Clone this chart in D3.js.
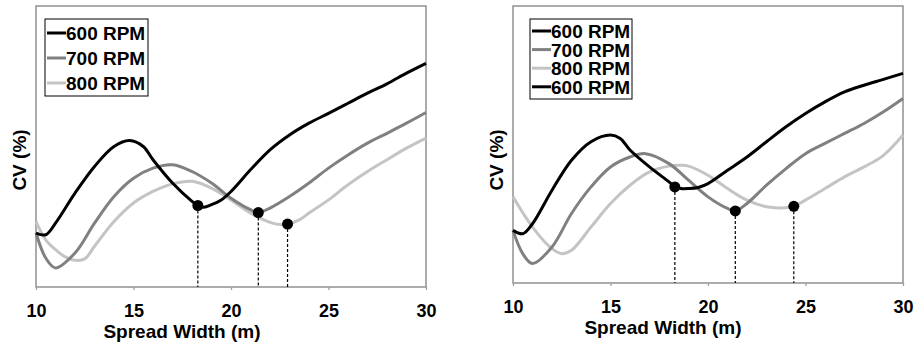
<!DOCTYPE html>
<html>
<head>
<meta charset="utf-8">
<script src="https://cdn.jsdelivr.net/npm/d3@7"></script>
<style>
  body { margin: 0; background: #fff; }
  svg { display: block; font-family: Arial, 'Liberation Sans', sans-serif; }
</style>
</head>
<body>
<div id="chart"></div>
<script>
// x ticks (spread width, m)
const xTicks = [10, 15, 20, 25, 30]

// left panel curves: [spread width, CV (relative)]
const left600 = [[10,19.2],[10.5,18.6],[11,22.7],[12,33.4],[13,42.9],[14,50.0],[14.8,52.1],[15.5,50.0],[16,45.3],[17,37.0],[18,30.5],[18.3,29.0],[18.6,28.4],[19,29.3],[19.5,31.0],[20,34.0],[21,41.7],[22,48.8],[23,54.1],[24,58.3],[25,61.8],[26,65.4],[27,69.0],[28,72.3],[29,76.1],[30,79.6]]
const left700 = [[10,19.2],[10.5,10.3],[11,6.8],[12,12.1],[13,22.7],[14,32.2],[15,38.7],[16,42.3],[17,43.5],[18,41.1],[19,37.0],[20,31.6],[21,27.5],[21.4,26.5],[22,28.1],[23,32.2],[24,37.0],[25,42.3],[26,47.0],[27,51.2],[28,54.7],[29,58.3],[30,62.1]]
const left800 = [[10,23.3],[10.5,16.8],[11,13.3],[11.5,10.7],[12,9.5],[12.5,10.0],[13,14.5],[14,23.3],[15,29.9],[16,34.0],[17,36.7],[18,37.6],[19,35.2],[20,31.0],[21,26.3],[22,23.0],[22.5,22.2],[22.9,22.4],[23.5,23.9],[24,26.3],[25,31.0],[26,36.4],[27,41.1],[28,45.3],[29,49.4],[30,53.0]]
const leftMinima = [[18.3,29.0],[21.4,26.5],[22.9,22.4]]

// right panel curves
const right600 = [[10,19.0],[10.5,17.8],[11,21.4],[12,33.5],[13,44.3],[14,51.0],[15,53.4],[15.5,52.2],[16,48.0],[17,41.9],[18,36.5],[18.3,34.7],[18.6,34.1],[19,34.1],[19.5,34.5],[20,35.9],[21,40.7],[22,45.5],[23,51.0],[24,56.4],[25,61.2],[26,65.4],[27,69.0],[28,71.4],[29,73.5],[30,75.7]]
const right700 = [[10,19.0],[10.5,10.6],[11,7.0],[12,13.0],[13,25.1],[14,34.7],[15,41.9],[16,45.5],[16.8,46.7],[18,43.1],[19,37.1],[20,31.1],[21,26.9],[21.4,26.0],[22,28.7],[23,35.3],[24,41.3],[25,46.7],[26,50.4],[27,54.0],[28,57.6],[29,61.8],[30,66.6]]
const right800 = [[10,31.1],[11,20.2],[12,12.4],[12.5,10.6],[13,11.8],[14,20.2],[15,28.7],[16,35.3],[17,40.1],[18,42.2],[18.7,42.5],[19,42.2],[20,38.9],[21,34.1],[22,29.9],[23,27.5],[24,27.2],[24.4,27.7],[25,29.9],[26,34.1],[27,38.3],[28,41.9],[29,46.1],[30,53.4]]
const rightMinima = [[18.3,34.7],[21.4,26.0],[24.4,27.7]]

const leftLegend = ['600 RPM', '700 RPM', '800 RPM']
const rightLegend = ['600 RPM', '700 RPM', '800 RPM', '600 RPM']

const colors = { '600 RPM': '#000000', '700 RPM': '#808080', '800 RPM': '#c4c4c4' }

const svg = d3.select('#chart').append('svg')
    .attr('width', 917).attr('height', 346)

function drawPanel(cfg) {
    const g = svg.append('g')
    const x = d3.scaleLinear().domain([10, 30]).range([cfg.left, cfg.right])
    const y = d3.scaleLinear().domain([0, 100]).range([cfg.bottom, cfg.top])

    // frame
    g.append('rect')
        .attr('x', cfg.left).attr('y', cfg.top)
        .attr('width', cfg.right - cfg.left).attr('height', cfg.bottom - cfg.top)
        .style('fill', 'none').style('stroke', '#808080').style('stroke-width', 1.3)

    // x axis
    const xAxis = d3.axisBottom(x).tickValues(xTicks).tickSizeInner(3).tickSizeOuter(0).tickPadding(14)
    const ax = g.append('g')
        .attr('transform', `translate(0,${cfg.bottom})`)
        .call(xAxis)
    ax.select('.domain').remove()
    ax.selectAll('.tick line').style('stroke', '#a0a0a0').style('stroke-width', 1.3)
    ax.selectAll('.tick text')
        .style('font-size', '18px').style('font-weight', 'bold').style('fill', '#000')
    ax.attr('font-family', null).attr('font-size', null)

    // axis titles
    g.append('text')
        .attr('x', cfg.titleX).attr('y', cfg.titleY)
        .attr('text-anchor', 'middle')
        .style('font-size', '19px').style('font-weight', 'bold')
        .text('Spread Width (m)')
    g.append('text')
        .attr('transform', `translate(${cfg.left - 10},${160}) rotate(-90)`)
        .attr('text-anchor', 'middle')
        .style('font-size', '19px').style('font-weight', 'bold')
        .text('CV (%)')

    // curves
    const lineGen = d3.line().x(d => x(d[0])).y(d => y(d[1])).curve(d3.curveCatmullRom.alpha(0.5))
    cfg.series.slice().reverse().forEach(s => {
        g.append('path')
            .attr('d', lineGen(s.values))
            .style('fill', 'none')
            .style('stroke', colors[s.name])
            .style('stroke-width', 3)
    })

    // minima: dashed drop lines and dots
    g.selectAll('.drop').data(cfg.minima).enter().append('line')
        .attr('x1', d => x(d[0])).attr('x2', d => x(d[0]))
        .attr('y1', d => y(d[1])).attr('y2', cfg.bottom)
        .style('stroke', '#000').style('stroke-width', 1.2)
        .style('stroke-dasharray', '3,2')
    g.selectAll('.dot').data(cfg.minima).enter().append('circle')
        .attr('cx', d => x(d[0])).attr('cy', d => y(d[1]))
        .attr('r', 5.5).style('fill', '#000')

    // legend
    const lg = g.append('g')
    lg.append('rect')
        .attr('x', cfg.legend.x).attr('y', cfg.legend.y)
        .attr('width', cfg.legend.w).attr('height', cfg.legend.h)
        .style('fill', '#fff').style('stroke', '#000').style('stroke-width', 1)
    cfg.legendItems.forEach((name, i) => {
        const cy = cfg.legend.y + cfg.legend.first + i * cfg.legend.step
        lg.append('line')
            .attr('x1', cfg.legend.x + 2).attr('x2', cfg.legend.x + 21)
            .attr('y1', cy).attr('y2', cy)
            .style('stroke', colors[name]).style('stroke-width', 3)
        lg.append('text')
            .attr('x', cfg.legend.x + 21).attr('y', cy + 7)
            .style('font-size', '19px').style('font-weight', 'bold')
            .text(name)
    })
}

drawPanel({
    left: 36, right: 426, top: 6, bottom: 287,
    titleX: 182, titleY: 338,
    series: [
        { name: '600 RPM', values: left600 },
        { name: '700 RPM', values: left700 },
        { name: '800 RPM', values: left800 }
    ],
    minima: leftMinima,
    legendItems: leftLegend,
    legend: { x: 45, y: 19, w: 103, h: 77, first: 14, step: 25 }
})

drawPanel({
    left: 513, right: 903, top: 6, bottom: 283,
    titleX: 663, titleY: 334,
    series: [
        { name: '600 RPM', values: right600 },
        { name: '700 RPM', values: right700 },
        { name: '800 RPM', values: right800 }
    ],
    minima: rightMinima,
    legendItems: rightLegend,
    legend: { x: 530, y: 19, w: 102, h: 80, first: 12, step: 18.6 }
})
</script>
</body>
</html>
